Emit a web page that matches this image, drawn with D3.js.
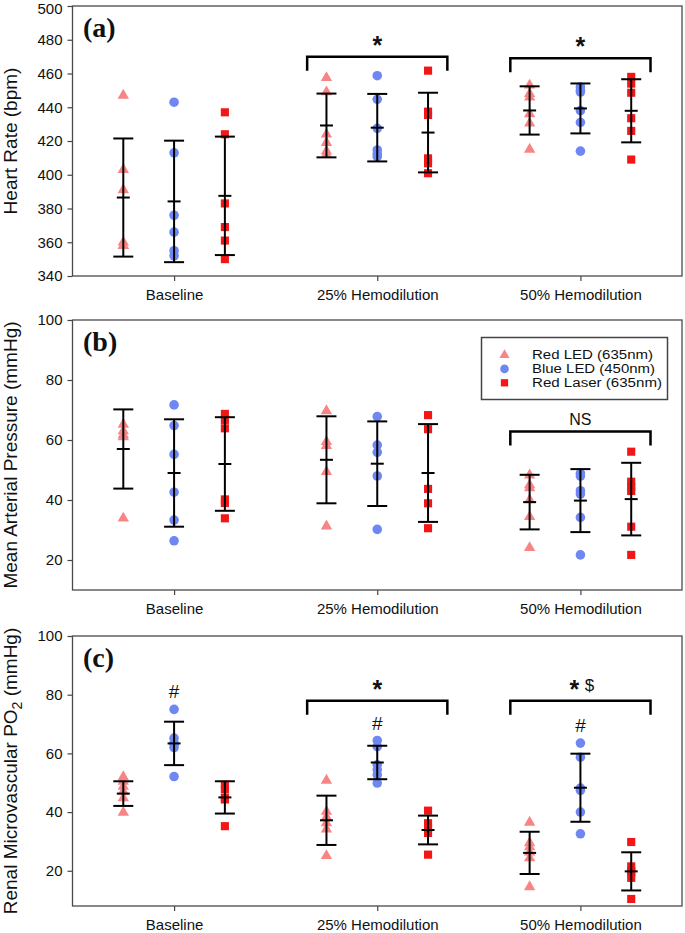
<!DOCTYPE html>
<html><head><meta charset="utf-8">
<script src="https://cdn.jsdelivr.net/npm/d3@7"></script>
<style>body{margin:0;background:#fff}svg{display:block}</style>
</head><body>
<script>
const categories = ["Baseline", "25% Hemodilution", "50% Hemodilution"];
const seriesNames = ["Red LED (635nm)", "Blue LED (450nm)", "Red Laser (635nm)"];

// Panel (a) Heart rate — individual points [category][series][]
const hrPoints = [
  [[447, 403, 391, 360, 358, 358], [443, 413, 376, 366, 355, 352], [437, 424, 383, 369, 361, 350]],
  [[457.5, 449, 424, 419, 414, 412], [458.7, 444.7, 427.5, 414.7, 412.3, 410.7], [461.7, 437.4, 435.4, 409.7, 406.8, 400.9]],
  [[453, 448, 446, 436, 430.5, 415], [452, 450, 449, 438, 431, 414], [458, 454, 448.6, 433.5, 426, 409]]
];
const hrMean = [[386.5, 384.2, 387.5], [429.2, 427.9, 425.0], [438.1, 439.3, 437.9]];
const hrSD   = [[35.0, 36.0, 35.1], [18.9, 20.0, 23.6], [14.3, 14.8, 18.7]];

// Panel (b) Mean arterial pressure
const mapPoints = [
  [[65.2, 63, 61.7, 61, 33.9], [71.7, 64.8, 55.2, 42.6, 33.3, 26.4], [68.7, 66.7, 63.9, 40.2, 39, 33.9]],
  [[69.7, 59.4, 58.1, 49.4, 31.3], [67.8, 58.3, 55.9, 48, 30.2], [68.3, 63.6, 43.7, 38.9, 30.6]],
  [[48.3, 45, 44, 40, 34.4, 24.1], [48.9, 48, 43.1, 42, 34.2, 21.7], [56.1, 46.1, 44.4, 43, 31.1, 21.7]]
];
const mapMean = [[57.0, 49.0, 52.0], [53.4, 52.1, 49.0], [39.3, 39.8, 40.3]];
const mapSD   = [[13.2, 17.9, 15.6], [14.5, 14.1, 16.3], [9.1, 10.5, 12.1]];

// Panel (c) Renal microvascular PO2
const po2Points = [
  [[52, 50.4, 48.7, 47, 44.8, 39.9], [75, 65.2, 63.5, 63, 62, 52.1], [49.3, 47.7, 44.8, 44.3, 35.2]],
  [[50.8, 40.2, 38.3, 36.3, 34.2, 25.1], [64.4, 62.3, 56.1, 54.4, 52.7, 49.9], [40.5, 36.2, 34.6, 32.9, 25.5]],
  [[36.5, 29.5, 28.1, 26.3, 24.4, 14.5], [63.5, 58.7, 48.2, 47.4, 40, 32.6], [29.8, 21.5, 20, 19.5, 17.6, 10.4]]
];
const po2Mean = [[46.3, 63.4, 45.0], [37.2, 56.9, 33.9], [26.1, 48.3, 19.8]];
const po2SD   = [[4.2, 7.4, 5.5], [8.4, 5.7, 4.9], [7.2, 11.6, 6.5]];

// Annotations: [category index, bracket level (data units), label]
const hrBrackets  = [[1, 470, "*"], [2, 469, "*"]];
const mapBrackets = [[2, 62.8, "NS"]];
const po2Brackets = [[1, 77.9, "*"], [2, 77.9, "* $"]];
const po2Hash = [[0, 81.3], [1, 70.3], [2, 69.5]]; // "#" above Blue LED

const hrTicks  = [340, 360, 380, 400, 420, 440, 460, 480, 500];
const mapTicks = [20, 40, 60, 80, 100];
const po2Ticks = [20, 40, 60, 80, 100];

const colors = ["#f78585", "#6e87f2", "#f21616"];
const shapes = [d3.symbolTriangle, d3.symbolCircle, d3.symbolSquare];
const sizes = [56, 72, 66];

const W = 685, H = 933;
const left = 72.5, right = 682;
const FONT = "'Liberation Sans', Arial, sans-serif";

const svg = d3.select("body").append("svg").attr("width", W).attr("height", H);

const x = d3.scalePoint().domain(categories).range([left, right]).padding(0.5);
const step = x.step();
const off = step * 0.25;

const panels = [
  {top: 6, bottom: 276, domain: [340, 500], ticks: hrTicks, pts: hrPoints, mean: hrMean, sd: hrSD,
   title: ["Heart Rate (bpm)"], label: "(a)", brackets: hrBrackets, hash: []},
  {top: 320, bottom: 590, domain: [10, 100], ticks: mapTicks, pts: mapPoints, mean: mapMean, sd: mapSD,
   title: ["Mean Arterial Pressure (mmHg)"], label: "(b)", brackets: mapBrackets, hash: [], legend: true},
  {top: 636, bottom: 906, domain: [8, 100], ticks: po2Ticks, pts: po2Points, mean: po2Mean, sd: po2SD,
   title: ["Renal Microvascular PO", "2", " (mmHg)"], label: "(c)", brackets: po2Brackets, hash: po2Hash}
];

panels.forEach(p => {
  const g = svg.append("g");
  const y = d3.scaleLinear().domain(p.domain).range([p.bottom, p.top]);

  // axes
  const ya = g.append("g").attr("transform", `translate(${left},0)`)
    .call(d3.axisLeft(y).tickValues(p.ticks).tickSize(5).tickPadding(5).tickFormat(d3.format("d")));
  ya.select(".domain").remove();
  ya.selectAll("line").attr("stroke", "#444").attr("stroke-width", 1.2);
  ya.selectAll("text").attr("font-family", FONT).attr("font-size", 15).attr("fill", "#111")
    .attr("dy", d => (y(d) < 12 ? "0.52em" : "0.32em"));

  const xa = g.append("g").attr("transform", `translate(0,${p.bottom})`)
    .call(d3.axisBottom(x).tickSize(5).tickPadding(8));
  xa.select(".domain").remove();
  xa.selectAll("line").attr("stroke", "#444").attr("stroke-width", 1.2);
  xa.selectAll("text").attr("font-family", FONT).attr("font-size", 15).attr("fill", "#111");

  // frame
  g.append("rect").attr("x", left).attr("y", p.top).attr("width", right - left).attr("height", p.bottom - p.top)
    .attr("fill", "none").attr("stroke", "#4a4a4a").attr("stroke-width", 1.3);

  // y title
  const t = g.append("text").attr("transform", `translate(17,${(p.top + p.bottom) / 2}) rotate(-90)`)
    .attr("text-anchor", "middle").attr("font-family", FONT).attr("font-size", 19).attr("fill", "#111");
  if (p.title.length === 1) t.text(p.title[0]);
  else {
    t.append("tspan").text(p.title[0]);
    t.append("tspan").text(p.title[1]).attr("font-size", 14).attr("dy", 5);
    t.append("tspan").text(p.title[2]).attr("dy", -5);
  }

  // panel label
  g.append("text").attr("x", 83).attr("y", p.top + 31).attr("font-family", "'Liberation Serif', 'Times New Roman', serif")
    .attr("font-weight", "bold").attr("font-size", 28).attr("fill", "#111").text(p.label);

  // points
  categories.forEach((c, ci) => {
    seriesNames.forEach((s, si) => {
      const cx = x(c) + (si - 1) * off;
      g.append("g").selectAll("path").data(p.pts[ci][si]).join("path")
        .attr("d", d3.symbol().type(shapes[si]).size(sizes[si]))
        .attr("transform", d => `translate(${cx},${y(d)})`)
        .attr("fill", colors[si]);
    });
  });

  // error bars (mean ± SD)
  categories.forEach((c, ci) => {
    seriesNames.forEach((s, si) => {
      const cx = x(c) + (si - 1) * off;
      const m = p.mean[ci][si], sd = p.sd[ci][si];
      const eb = g.append("g").attr("stroke", "#000").attr("stroke-width", 2);
      eb.append("line").attr("x1", cx).attr("x2", cx).attr("y1", y(m + sd)).attr("y2", y(m - sd));
      [m + sd, m - sd].forEach(v => eb.append("line").attr("x1", cx - 10).attr("x2", cx + 10).attr("y1", y(v)).attr("y2", y(v)));
      eb.append("line").attr("x1", cx - 6.5).attr("x2", cx + 6.5).attr("y1", y(m)).attr("y2", y(m));
    });
  });

  // brackets
  p.brackets.forEach(([ci, lvl, lab]) => {
    const cx = x(categories[ci]);
    const hw = step * 0.345;
    const yt = y(lvl);
    g.append("path").attr("d", `M${cx - hw},${yt + 14}V${yt}H${cx + hw}V${yt + 14}`)
      .attr("fill", "none").attr("stroke", "#000").attr("stroke-width", 2.5);
    if (lab === "NS") {
      g.append("text").attr("x", cx).attr("y", yt - 7).attr("text-anchor", "middle")
        .attr("font-family", FONT).attr("font-size", 16).attr("fill", "#111").text(lab);
    } else if (lab === "*") {
      g.append("text").attr("x", cx).attr("y", yt - 3).attr("text-anchor", "middle")
        .attr("font-family", FONT).attr("font-weight", "bold").attr("font-size", 25).attr("fill", "#111").text("*");
    } else {
      g.append("text").attr("x", cx - 6).attr("y", yt - 3).attr("text-anchor", "middle")
        .attr("font-family", FONT).attr("font-weight", "bold").attr("font-size", 25).attr("fill", "#111").text("*");
      g.append("text").attr("x", cx + 9).attr("y", yt - 10).attr("text-anchor", "middle")
        .attr("font-family", FONT).attr("font-size", 17).attr("fill", "#111").text("$");
    }
  });

  // hash marks
  p.hash.forEach(([ci, v]) => {
    g.append("text").attr("x", x(categories[ci])).attr("y", y(v)).attr("dy", "0.36em").attr("text-anchor", "middle")
      .attr("font-family", FONT).attr("font-size", 19).attr("fill", "#111").text("#");
  });

  // legend
  if (p.legend) {
    const lg = g.append("g");
    lg.append("rect").attr("x", 481.5).attr("y", 337.5).attr("width", 186).attr("height", 62)
      .attr("fill", "#fff").attr("stroke", "#444").attr("stroke-width", 1.5);
    const widths = [121, 123, 130];
    seriesNames.forEach((s, si) => {
      const yy = 355 + si * 13.9;
      lg.append("path").attr("d", d3.symbol().type(shapes[si]).size(sizes[si] * 0.8))
        .attr("transform", `translate(504.5,${yy})`).attr("fill", colors[si]);
      lg.append("text").attr("x", 532).attr("y", yy).attr("dy", "0.36em")
        .attr("font-family", FONT).attr("font-size", 12).attr("fill", "#111")
        .attr("textLength", widths[si]).attr("lengthAdjust", "spacingAndGlyphs").text(s);
    });
  }
});
</script>
</body></html>
